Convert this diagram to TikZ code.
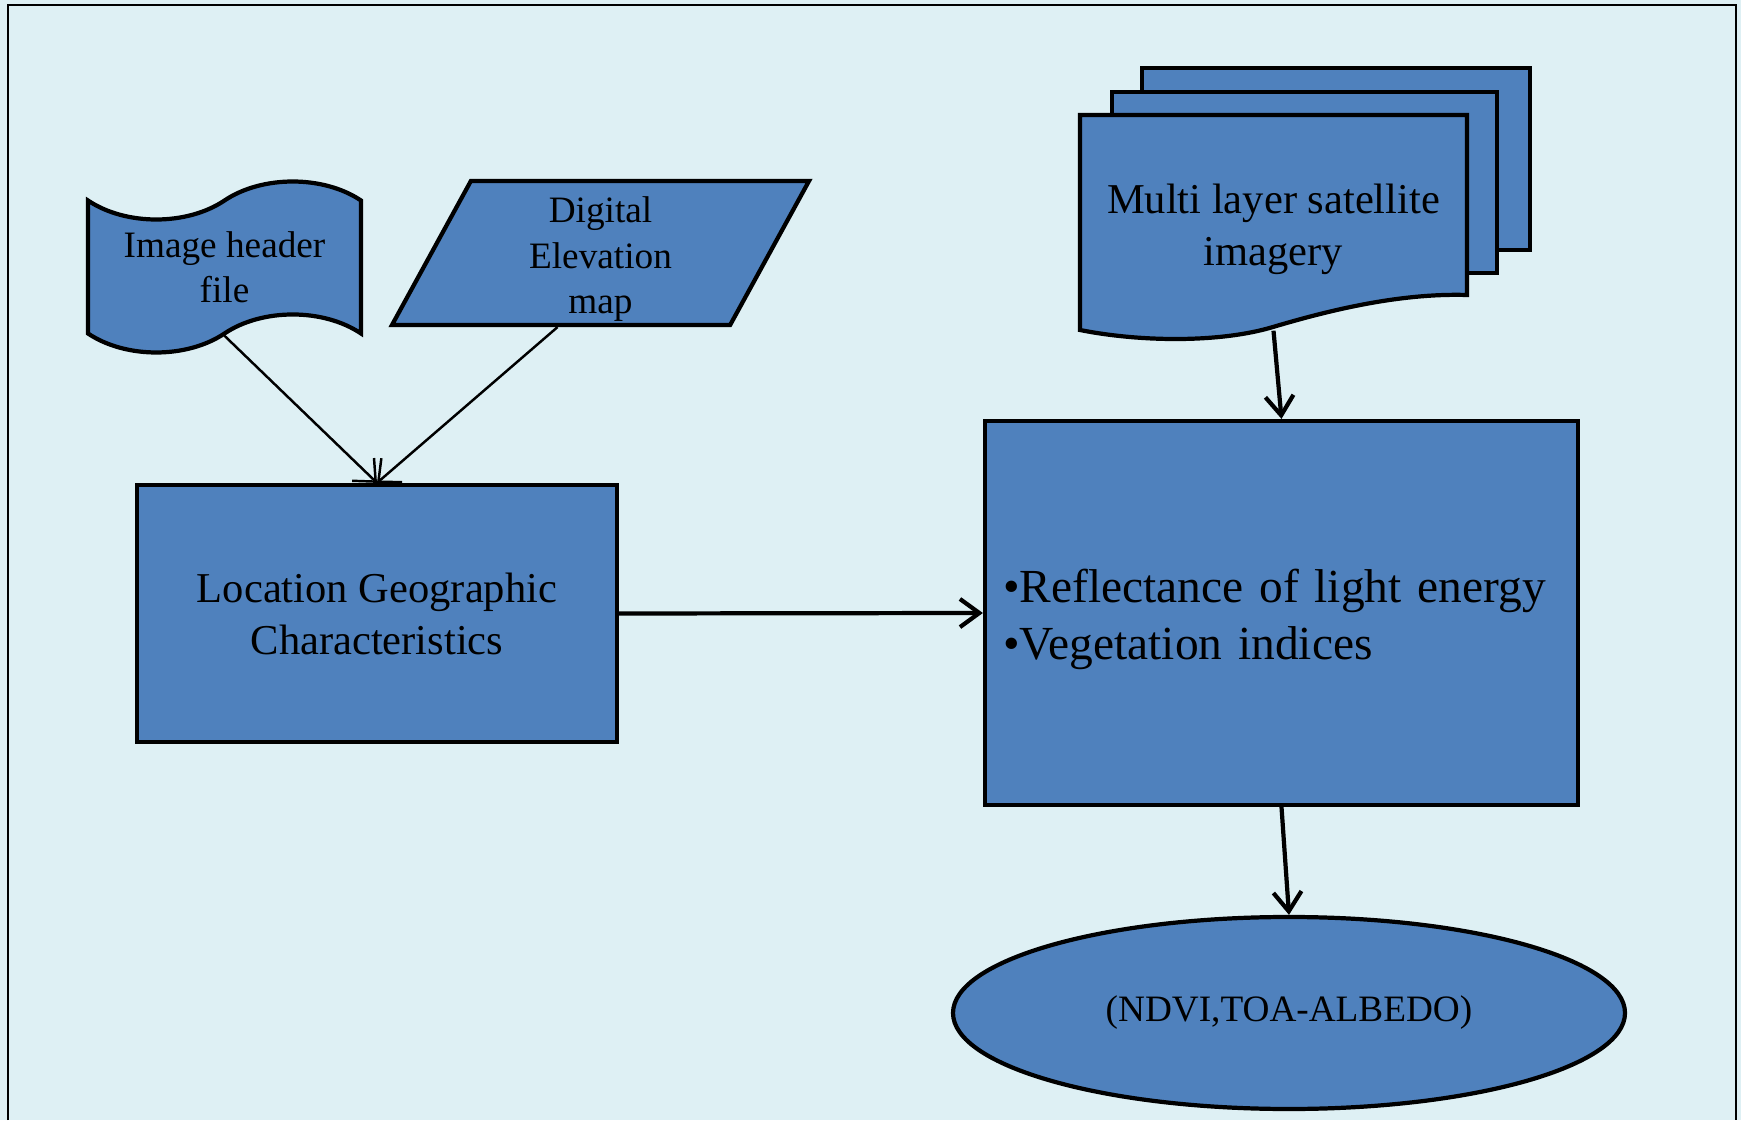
\documentclass[tikz,border=0pt]{standalone}
\usepackage{fontspec}
\setmainfont{Liberation Serif}
\usetikzlibrary{shapes.geometric, shapes.symbols, arrows.meta}

\definecolor{boxblue}{RGB}{79,129,189}
\definecolor{paper}{RGB}{222,240,244}

\tikzset{
	box/.style={draw=black, line width=1.2pt, fill=boxblue, align=center},
	plaintext/.style={align=center},
	thinarrow/.style={-{Straight Barb[length=5pt,width=9pt]}, line width=0.7pt},
	thickarrow/.style={-{Straight Barb[length=5.5pt,width=8pt]}, line width=1.2pt}
}

\begin{document}
\begin{tikzpicture}
		\fill[paper] (0,0) rectangle (17.41,11.2);
		\draw[line width=0.6pt] (0.08,0) -- (0.08,11.15) -- (17.36,11.15) -- (17.36,0);
		
		\draw[box] (11.42,10.52) rectangle (15.30,8.70);
		\draw[box] (11.12,10.28) rectangle (14.97,8.47);
		\draw[box] (10.80,10.05) -- (14.67,10.05) -- (14.67,8.25) .. controls (14.0,8.27) and (13.3,8.10) .. (12.73,7.93) .. controls (12.2,7.77) and (11.4,7.78) .. (10.80,7.90) -- cycle;
		\node[plaintext, minimum width=3.87cm, minimum height=2.01cm, font=\fontsize{12.1}{14.8}\selectfont] (sat) at (12.735,8.905) {Multi layer satellite\\imagery};
		
		\node[box, tape, minimum width=2.73cm, minimum height=1.42cm, tape bend height=0.38cm, font=\fontsize{10.6}{12.9}\selectfont] (hdr) at (2.245,8.53) {Image header\\file};
		\node[box, trapezium, trapezium left angle=60, trapezium right angle=120, trapezium stretches body, minimum width=4.17cm, minimum height=1.44cm, inner sep=0pt, font=\fontsize{10.6}{12.9}\selectfont] (dem) at (6.005,8.67) {\rule{0pt}{0.38cm}Digital\\Elevation\\map};
		
		\node[box, minimum width=4.80cm, minimum height=2.57cm, font=\fontsize{12.1}{14.8}\selectfont] (loc) at (3.77,5.065) {Location Geographic\\Characteristics};
		\node[box, minimum height=3.84cm, text width=5.57cm, inner xsep=0.18cm, align=left, font=\fontsize{13.5}{16.2}\selectfont] (refl) at (12.815,5.07) {\rule{0pt}{0.47cm}•Reflectance of light energy\\•Vegetation indices};
		\node[box, ellipse, minimum width=6.72cm, minimum height=1.92cm, inner sep=0pt, font=\fontsize{10.6}{12}\selectfont] (out) at (12.89,1.07) {(NDVI,TOA-ALBEDO)};
		
		\draw[thinarrow] (hdr.south) -- (loc.north);
		\draw[thinarrow] ([xshift=-0.43cm]dem.south) -- (loc.north);
		\draw[thickarrow] (loc.east) -- (refl.west);
		\draw[thickarrow] (sat.south) -- (refl.north);
		\draw[thickarrow] (refl.south) -- (out.north);
	\end{tikzpicture}
\end{document}
